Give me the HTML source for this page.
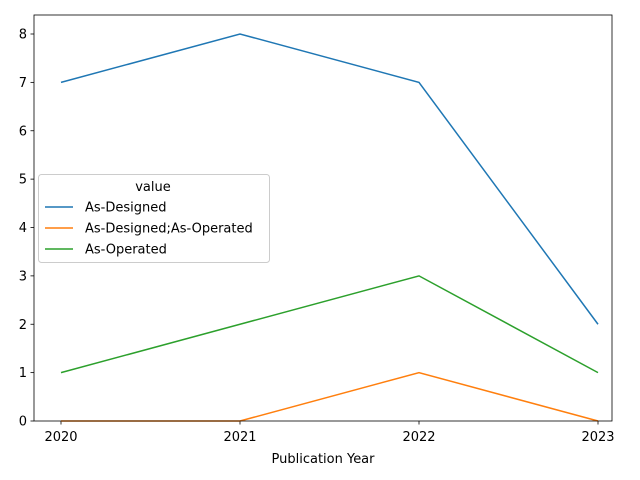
<!DOCTYPE html>
<html><head><meta charset="utf-8"><style>
body{margin:0;background:#fff;}
svg{display:block;font-family:"DejaVu Sans","Liberation Sans",sans-serif;}
</style></head><body>
<svg id="chart" width="640" height="480"></svg>
<script>
const years = [2020, 2021, 2022, 2023];
const asDesigned = [7, 8, 7, 2];
const asDesignedOperated = [0, 0, 1, 0];
const asOperated = [1, 2, 3, 1];
const yTicks = [0, 1, 2, 3, 4, 5, 6, 7, 8];
const seriesNames = ["As-Designed", "As-Designed;As-Operated", "As-Operated"];
const colors = ["#1f77b4", "#ff7f0e", "#2ca02c"];

const NS = "http://www.w3.org/2000/svg";
const svg = document.getElementById("chart");
const L = 34, R = 612, T = 15, B = 421;
const x = v => 61 + (v - 2020) * (598 - 61) / 3;
const y = v => B - v * (B - 34) / 8;
function mk(tag, attrs, parent) {
  const e = document.createElementNS(NS, tag);
  for (const k in attrs) e.setAttribute(k, attrs[k]);
  (parent || svg).appendChild(e);
  return e;
}
// ticks
yTicks.forEach(t => {
  mk("line", {x1: L - 3.5, x2: L, y1: y(t), y2: y(t), stroke: "#000", "stroke-width": 0.8});
  const tx = mk("text", {x: L - 7, y: y(t) + 4.5, "text-anchor": "end", "font-size": 13});
  tx.textContent = t;
  
  
});
years.forEach(yr => {
  mk("line", {x1: x(yr), x2: x(yr), y1: B, y2: B + 3.5, stroke: "#000", "stroke-width": 0.8});
  const tx = mk("text", {x: x(yr), y: B + 20, "text-anchor": "middle", "font-size": 13});
  tx.textContent = yr;
  
  
});
const xt = mk("text", {x: (L + R) / 2, y: 463, "text-anchor": "middle", "font-size": 13});
xt.textContent = "Publication Year";


// series
[asDesigned, asDesignedOperated, asOperated].forEach((s, i) => {
  const p = mk("polyline", {points: s.map((v, j) => x(years[j]) + "," + y(v)).join(" "), fill: "none", stroke: colors[i], "stroke-width": 1.5});
  
  
});
const frame = mk("rect", {x: L, y: T, width: R - L, height: B - T, fill: "none", stroke: "#000", "stroke-width": 0.8});


// legend
const lg = mk("g", {});


mk("rect", {x: 38.5, y: 174.5, width: 231, height: 88, rx: 3, fill: "#fff", "fill-opacity": 0.8, stroke: "#ccc"}, lg);
const lt = mk("text", {x: 153, y: 191, "text-anchor": "middle", "font-size": 13}, lg);
lt.textContent = "value";
seriesNames.forEach((n, i) => {
  const yy = 207 + i * 21;
  const ln = mk("line", {x1: 45, x2: 73, y1: yy, y2: yy, stroke: colors[i], "stroke-width": 1.5}, lg);
  
  
  const t = mk("text", {x: 85, y: yy + 4.5, "font-size": 13}, lg);
  t.textContent = n;
  
  
});
</script>
</body></html>
